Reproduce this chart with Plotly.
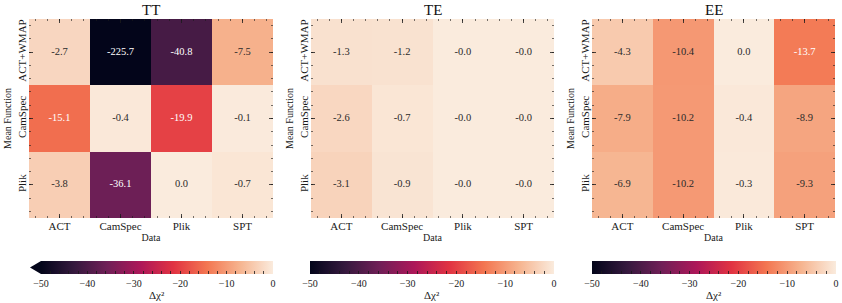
import plotly.graph_objects as go

# ---------------- data ----------------
rows = ["ACT+WMAP", "CamSpec", "Plik"]          # mean function (top -> bottom)
cols = ["ACT", "CamSpec", "Plik", "SPT"]        # data
panel_titles = ["TT", "TE", "EE"]

tt_values = [[-2.7, -225.7, -40.8, -7.5],
             [-15.1, -0.4, -19.9, -0.1],
             [-3.8, -36.1, 0.0, -0.7]]
te_values = [[-1.3, -1.2, -0.0, -0.0],
             [-2.6, -0.7, -0.0, -0.0],
             [-3.1, -0.9, -0.0, -0.0]]
ee_values = [[-4.3, -10.4, 0.0, -13.7],
             [-7.9, -10.2, -0.4, -8.9],
             [-6.9, -10.2, -0.3, -9.3]]
panels = [tt_values, te_values, ee_values]

cb_tickvals = list(range(-50, 1, 2))
cb_ticktext = [("\u2212%d" % -v if v < 0 else "%d" % v) if v % 10 == 0 else "" for v in cb_tickvals]
cb_title = "\u0394\u03c7\u00b2"

# ---------------- style ----------------
W, H = 842, 303
FONT = "Liberation Serif"
rocket = [[0.0, "#03051a"], [1/7, "#35193e"], [2/7, "#701f57"], [3/7, "#ad1759"],
          [4/7, "#e13342"], [5/7, "#f37651"], [6/7, "#f6b48f"], [1.0, "#faebdd"]]

# pixel layout
px_x = [(29, 273), (311, 554), (592, 835)]
px_y = (19, 218)
cb_x = [(41, 273), (310, 554), (592, 836)]
cb_top, cb_thick = 261, 13

def fx(p):
    return p / W

def fy(p):
    return 1 - p / H

fig = go.Figure()
layout = dict(
    width=W, height=H,
    margin=dict(l=0, r=0, t=0, b=0, autoexpand=False),
    paper_bgcolor="white", plot_bgcolor="white",
    font=dict(family=FONT, size=11, color="#1a1a1a"),
    showlegend=False,
    annotations=[], shapes=[],
)

for i, vals in enumerate(panels):
    xa = "x" if i == 0 else "x%d" % (i + 1)
    ya = "y" if i == 0 else "y%d" % (i + 1)
    xk = "xaxis" if i == 0 else "xaxis%d" % (i + 1)
    yk = "yaxis" if i == 0 else "yaxis%d" % (i + 1)

    xs = list(range(len(cols)))
    ys = list(range(len(rows)))
    fig.add_trace(go.Heatmap(
        z=vals, x=xs, y=ys, xaxis=xa, yaxis=ya,
        colorscale=rocket, zmin=-50, zmax=0,
        hoverinfo="skip",
        colorbar=dict(
            orientation="h", thickness=cb_thick,
            lenmode="pixels", len=cb_x[i][1] - cb_x[i][0],
            x=fx(cb_x[i][0]), xanchor="left",
            y=fy(cb_top), yanchor="top",
            xpad=0, ypad=0, outlinewidth=0,
            tickmode="array", tickvals=cb_tickvals, ticktext=cb_ticktext,
            ticks="inside", ticklen=3, tickwidth=0.8, tickcolor="#1a1a1a",
            tickfont=dict(family=FONT, size=10, color="#1a1a1a"),
        ),
    ))

    # annotation text
    tx, ty, tt, tc = [], [], [], []
    for r, row in enumerate(vals):
        for c, v in enumerate(row):
            tx.append(c)
            ty.append(r)
            tt.append("%.1f" % v)
            tc.append("white" if v < -12 else "#2a2a2a")
    fig.add_trace(go.Scatter(
        x=tx, y=ty, text=tt, mode="text", xaxis=xa, yaxis=ya,
        textfont=dict(family=FONT, size=10.5, color=tc), hoverinfo="skip",
    ))

    layout[xk] = dict(
        domain=[fx(px_x[i][0]), fx(px_x[i][1])], anchor=ya,
        range=[-0.5, len(cols) - 0.5], tickmode="array",
        tickvals=xs, ticktext=cols, ticks="inside", ticklen=4, tickwidth=0.8,
        tickcolor="#1a1a1a", mirror="ticks", showline=False, showgrid=False,
        zeroline=False,
        minor=dict(dtick=0.2, tick0=0, ticks="inside", ticklen=2, tickwidth=0.6,
                   tickcolor="#1a1a1a", showgrid=False),
        tickfont=dict(family=FONT, size=11, color="#1a1a1a"),
        title=dict(text="Data", standoff=2, font=dict(family=FONT, size=10, color="#1a1a1a")),
    )
    layout[yk] = dict(
        domain=[fy(px_y[1]), fy(px_y[0])], anchor=xa,
        range=[len(rows) - 0.5, -0.5], tickmode="array",
        tickvals=ys, ticktext=rows, tickangle=-90, ticks="inside", ticklen=4,
        tickwidth=0.8, tickcolor="#1a1a1a", mirror="ticks", showline=False,
        showgrid=False, zeroline=False,
        minor=dict(dtick=0.2, tick0=0, ticks="inside", ticklen=2, tickwidth=0.6,
                   tickcolor="#1a1a1a", showgrid=False),
        tickfont=dict(family=FONT, size=11, color="#1a1a1a"),
        title=dict(text="Mean Function", standoff=2, font=dict(family=FONT, size=10, color="#1a1a1a")),
    )
    layout["annotations"].append(dict(
        text=panel_titles[i], xref="paper", yref="paper",
        x=fx((px_x[i][0] + px_x[i][1]) / 2), y=fy(10),
        xanchor="center", yanchor="middle", showarrow=False, borderpad=0,
        font=dict(family=FONT, size=15, color="#111111"),
    ))
    layout["annotations"].append(dict(
        text=cb_title, xref="paper", yref="paper",
        x=fx((cb_x[i][0] + cb_x[i][1]) / 2), y=fy(295),
        xanchor="center", yanchor="middle", showarrow=False, borderpad=0,
        font=dict(family=FONT, size=11, color="#1a1a1a"),
    ))

# extend triangle on the TT colorbar (values below -50)
x0, x1 = fx(30), fx(41)
ya0, ya1 = fy(cb_top + cb_thick), fy(cb_top)
layout["shapes"].append(dict(
    type="path", xref="paper", yref="paper",
    path="M %f %f L %f %f L %f %f Z" % (x1, ya0, x0, (ya0 + ya1) / 2, x1, ya1),
    fillcolor="#03051a", line=dict(width=0),
))

fig.update_layout(**layout)
fig.write_html("out.html",
               config={"displayModeBar": False, "staticPlot": True},
               post_script="document.body.style.margin='0px';document.body.style.overflow='hidden';")
